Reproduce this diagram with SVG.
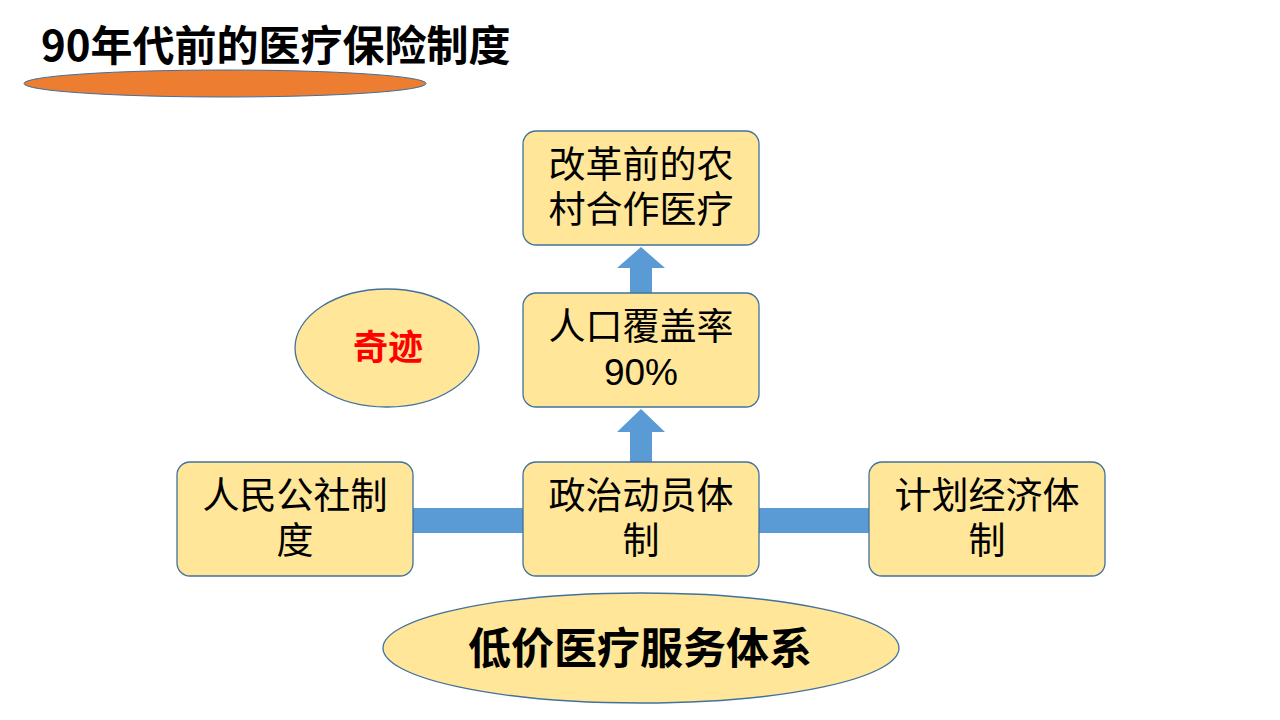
<svg xmlns="http://www.w3.org/2000/svg" width="1280" height="720" viewBox="0 0 1280 720">
<style>
.box{fill:#FFE699;stroke:#41719C;stroke-width:1.3}
.t{font-family:"Liberation Sans","Noto Sans CJK SC",sans-serif;font-size:37px;fill:#000;text-anchor:middle}
.conn{fill:#5B9BD5}
</style>
<rect width="1280" height="720" fill="#fff"/>
<g id="title">
<text x="41" y="61" font-family="'Noto Sans CJK SC',sans-serif" font-size="42" font-weight="bold" fill="#000">90年代前的医疗保险制度</text>
<ellipse cx="225" cy="83.5" rx="201" ry="13.5" fill="#ED7D31" stroke="#41719C" stroke-width="1"/>
</g>
<g id="connectors">
<polygon class="conn" points="630,293 630,268 617,268 641,247 665,268 652,268 652,293"/>
<polygon class="conn" points="630,462 630,432 617,432 641,409 665,432 652,432 652,462"/>
<rect class="conn" x="413" y="508" width="110" height="25"/>
<rect class="conn" x="759" y="508" width="110" height="25"/>
</g>
<g id="node-rural">
<rect class="box" x="523" y="131" width="236" height="114" rx="13"/>
<text class="t" x="641" y="178">改革前的农</text>
<text class="t" x="641" y="223">村合作医疗</text>
</g>
<g id="node-coverage">
<rect class="box" x="523" y="293" width="236" height="114" rx="13"/>
<text class="t" x="641" y="340">人口覆盖率</text>
<text class="t" x="641" y="385">90%</text>
</g>
<g id="node-commune">
<rect class="box" x="177" y="462" width="236" height="114" rx="13"/>
<text class="t" x="295" y="509">人民公社制</text>
<text class="t" x="295" y="554">度</text>
</g>
<g id="node-political">
<rect class="box" x="523" y="462" width="236" height="114" rx="13"/>
<text class="t" x="641" y="509">政治动员体</text>
<text class="t" x="641" y="554">制</text>
</g>
<g id="node-planned">
<rect class="box" x="869" y="462" width="236" height="114" rx="13"/>
<text class="t" x="987" y="509">计划经济体</text>
<text class="t" x="987" y="554">制</text>
</g>
<g id="node-miracle">
<ellipse class="box" cx="387" cy="348" rx="92" ry="59"/>
<text x="388" y="360" text-anchor="middle" font-family="'Noto Sans CJK SC',sans-serif" font-size="35" font-weight="bold" fill="#FF0000">奇迹</text>
</g>
<g id="node-lowcost">
<ellipse class="box" cx="641" cy="648" rx="258" ry="55"/>
<text x="640" y="664" text-anchor="middle" font-family="'Noto Sans CJK SC',sans-serif" font-size="43" font-weight="bold" fill="#000">低价医疗服务体系</text>
</g>
</svg>
